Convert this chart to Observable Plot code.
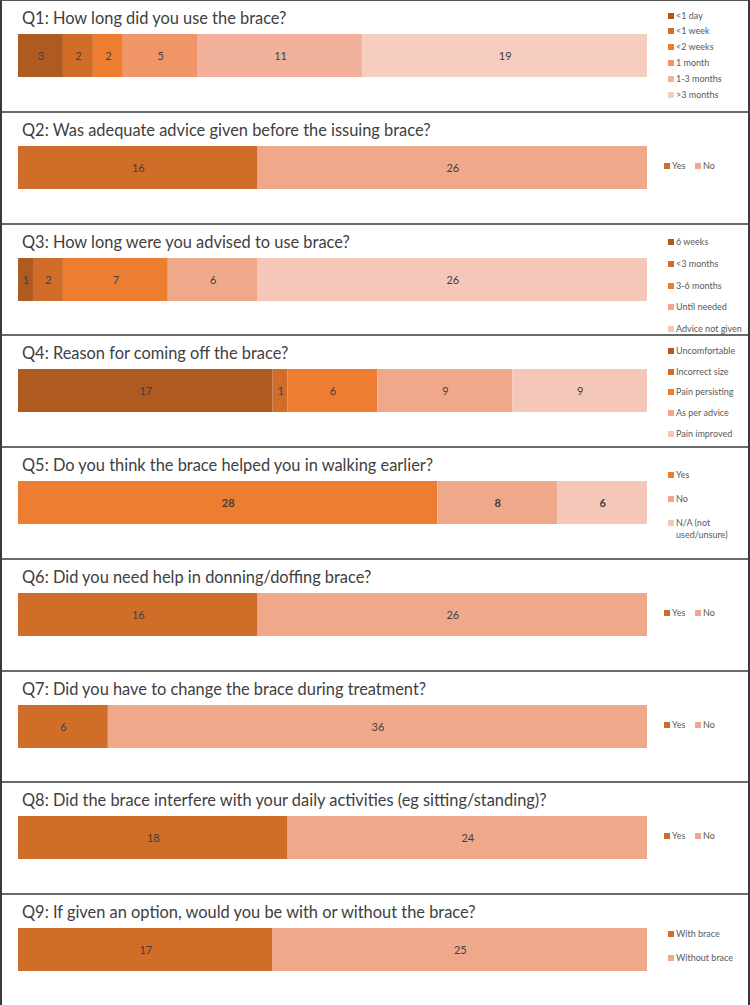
<!DOCTYPE html>
<html><head><meta charset="utf-8">
<script src="https://cdn.jsdelivr.net/npm/d3@7"></script>
<script src="https://cdn.jsdelivr.net/npm/@observablehq/plot@0.6"></script>
<style>
body{margin:0;background:#fff;font-family:Lato,"Open Sans",sans-serif;}
#wrap{width:750px;height:1005px;box-sizing:border-box;border-left:2px solid #3a3a3a;border-right:2px solid #3a3a3a;border-top:1px solid #555;display:flex;flex-direction:column;}
.panel{position:relative;box-sizing:border-box;border-bottom:2px solid #6a6a6a;flex:1;}
.panel:last-child{border-bottom:none;}
.title{position:absolute;left:20px;top:7px;font-size:16.4px;color:#404040;white-space:nowrap;}
.chart{position:absolute;left:0;top:33px;}
.item{position:absolute;display:flex;align-items:flex-start;font-size:9px;color:#595959;line-height:12px;}
.sw{width:6px;height:6px;margin-top:3px;margin-right:2px;flex:none;}
.lab{max-width:74px;}
</style>
</head><body><div id="wrap"></div>
<script>
const titles = [
  "Q1: How long did you use the brace?",
  "Q2: Was adequate advice given before the issuing brace?",
  "Q3: How long were you advised to use brace?",
  "Q4: Reason for coming off the brace?",
  "Q5: Do you think the brace helped you in walking earlier?",
  "Q6: Did you need help in donning/doffing brace?",
  "Q7: Did you have to change the brace during treatment?",
  "Q8: Did the brace interfere with your daily activities (eg sitting/standing)?",
  "Q9: If given an option, would you be with or without the brace?"
];
const q1Cats = ["<1 day","<1 week","<2 weeks","1 month","1-3 months",">3 months"];
const q1Vals = [3,2,2,5,11,19];
const q2Cats = ["Yes","No"];
const q2Vals = [16,26];
const q3Cats = ["6 weeks","<3 months","3-6 months","Until needed","Advice not given"];
const q3Vals = [1,2,7,6,26];
const q4Cats = ["Uncomfortable","Incorrect size","Pain persisting","As per advice","Pain improved"];
const q4Vals = [17,1,6,9,9];
const q5Cats = ["Yes","No","N/A (not used/unsure)"];
const q5Vals = [28,8,6];
const q6Cats = ["Yes","No"];
const q6Vals = [16,26];
const q7Cats = ["Yes","No"];
const q7Vals = [6,36];
const q8Cats = ["Yes","No"];
const q8Vals = [18,24];
const q9Cats = ["With brace","Without brace"];
const q9Vals = [17,25];

const c6 = ["#AE5A21","#D06D29","#ED7D31","#F19569","#F2B19B","#F6CDBF"];
const c5 = ["#AE5A21","#D06D29","#ED7D31","#F0A88A","#F5C7B8"];
const c3 = ["#ED7D31","#F0A88A","#F5C7B8"];
const c2 = ["#D06D29","#F0A88A"];

const panels = [
  {cats:q1Cats, vals:q1Vals, colors:c6},
  {cats:q2Cats, vals:q2Vals, colors:c2},
  {cats:q3Cats, vals:q3Vals, colors:c5, center:62, step:21.8},
  {cats:q4Cats, vals:q4Vals, colors:c5, center:57, step:20.7},
  {cats:q5Cats, vals:q5Vals, colors:c3, bold:true},
  {cats:q6Cats, vals:q6Vals, colors:c2},
  {cats:q7Cats, vals:q7Vals, colors:c2},
  {cats:q8Cats, vals:q8Vals, colors:c2},
  {cats:q9Cats, vals:q9Vals, colors:c2}
];

const wrap = document.getElementById("wrap");
panels.forEach((p, k) => {
  const div = document.createElement("div");
  div.className = "panel";
  const t = document.createElement("div");
  t.className = "title"; t.textContent = titles[k];
  div.appendChild(t);
  const data = p.cats.map((c, i) => ({cat: c, value: p.vals[i]}));
  const total = d3.sum(p.vals);
  const svg = Plot.plot({
    width: 647, height: 43,
    marginTop: 0, marginBottom: 0, marginLeft: 16, marginRight: 2,
    x: {domain: [0, total], axis: null},
    color: {domain: p.cats, range: p.colors},
    style: {background: "transparent", fontFamily: "Lato, 'Open Sans', sans-serif"},
    marks: [
      Plot.barX(data, {x: "value", fill: "cat"}),
      Plot.text(data, Plot.stackX({x: "value", text: d => String(d.value), fill: "#404040", fontSize: 11, fontWeight: p.bold ? "bold" : "normal"}))
    ]
  });
  const holder = document.createElement("div");
  holder.className = "chart";
  holder.appendChild(svg);
  div.appendChild(holder);

  const horizontal = p.cats.length === 2 && p.cats[0] === "Yes";
  const n = p.cats.length;
  const step = p.step || (n >= 6 ? 15.8 : 24);
  const center = p.center || (n === 6 ? 55 : 52);
  p.cats.forEach((c, i) => {
    const it = document.createElement("div");
    it.className = "item";
    const sw = document.createElement("div");
    sw.className = "sw"; sw.style.background = p.colors[i];
    const lab = document.createElement("span");
    lab.className = "lab"; lab.textContent = c;
    if (c.length > 18) lab.style.maxWidth = "62px";
    it.appendChild(sw); it.appendChild(lab);
    if (horizontal) {
      it.style.left = (662 + i * 31) + "px";
      it.style.top = (54 - 7) + "px";
    } else {
      it.style.left = "666px";
      it.style.top = (center + (i - (n - 1) / 2) * step - 7) + "px";
    }
    div.appendChild(it);
  });
  wrap.appendChild(div);
});
</script>
</body></html>
